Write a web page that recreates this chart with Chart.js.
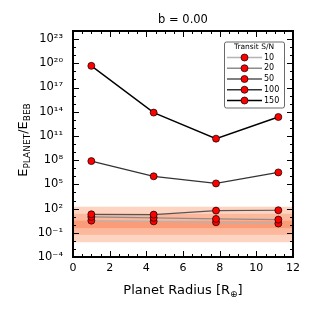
<!DOCTYPE html>
<html>
<head>
<meta charset="utf-8">
<script src="https://cdn.jsdelivr.net/npm/chart.js@4.4.1/dist/chart.umd.min.js"></script>
<style>
html,body{margin:0;padding:0;background:#fff;}
#wrap{width:312px;height:315px;}
</style>
</head>
<body>
<div id="wrap"><canvas id="myChart"></canvas></div>
<script>
// planet radius (earth radii) for every curve
const radius = [1.0, 4.4, 7.8, 11.2];
const snLabels = ['10', '20', '50', '100', '150'];
const sn10 = [3.2, 2.6, 2.0, 1.4];
const sn20 = [9.3, 7.1, 5.2, 4.3];
const sn50 = [19.5, 17.8, 56, 62];
const sn100 = [7.6e7, 1.0e6, 1.3e5, 3.0e6];
const sn150 = [4.8e19, 7.8e13, 4.6e10, 2.2e13];
const lineColors = ['#b4b4b4', '#8c8c8c', '#555555', '#333333', '#000000'];

// shaded bands, outer to inner
const bandLow = [6.8e-3, 5.6e-2, 0.38];
const bandHigh = [170, 22.4, 3.16];
const bandColors = ['rgb(253,212,194)', 'rgb(252,184,156)', 'rgb(250,156,120)'];

const yTickExp = [-4, -1, 2, 5, 8, 11, 14, 17, 20, 23];
const xTicks = [0, 2, 4, 6, 8, 10, 12];
const titleText = 'b = 0.00';

const FONT = 'DejaVu Sans';
const supMap = {'-':'\u207B','0':'\u2070','1':'\u00B9','2':'\u00B2','3':'\u00B3','4':'\u2074','5':'\u2075','6':'\u2076','7':'\u2077','8':'\u2078','9':'\u2079'};
function sup(n){
    return String(n).split('').map(c => supMap[c]).join('');
}

const allSeries = [sn10, sn20, sn50, sn100, sn150];
const datasets = allSeries.map((s, i) => ({
    label: snLabels[i],
    data: s.map((v, j) => ({x: radius[j], y: v})),
    borderColor: lineColors[i],
    borderWidth: i === 4 ? 1.4 : 1.2,
    pointRadius: 3.5,
    pointHoverRadius: 3.5,
    pointBackgroundColor: '#ff0000',
    pointBorderColor: '#000000',
    pointBorderWidth: 0.7,
    tension: 0,
    fill: false,
    order: allSeries.length - i
}));

const decor = {
    id: 'decor',
    beforeDatasetsDraw(chart){
        const ctx = chart.ctx, ca = chart.chartArea, y = chart.scales.y;
        ctx.save();
        for(let i = 0; i < bandLow.length; i++){
            const top = y.getPixelForValue(bandHigh[i]);
            const bot = y.getPixelForValue(bandLow[i]);
            ctx.fillStyle = bandColors[i];
            ctx.fillRect(ca.left, top, ca.right - ca.left, bot - top);
        }
        ctx.restore();
    },
    afterDatasetsDraw(chart){
        const ctx = chart.ctx, ca = chart.chartArea;
        const xs = chart.scales.x, ys = chart.scales.y;
        ctx.save();
        ctx.strokeStyle = '#000';
        ctx.lineWidth = 1;
        ctx.beginPath();
        // y ticks, one per decade, longer where labelled
        for(let e = -4; e <= 24; e++){
            const py = Math.round(ys.getPixelForValue(Math.pow(10, e))) + 0.5;
            const len = yTickExp.includes(e) ? 6 : 3;
            ctx.moveTo(ca.left, py); ctx.lineTo(ca.left + len, py);
            ctx.moveTo(ca.right, py); ctx.lineTo(ca.right - len, py);
        }
        // x ticks every 0.5
        for(let v = 0; v <= 12; v += 0.5){
            const px = Math.round(xs.getPixelForValue(v)) + 0.5;
            const len = xTicks.includes(v) ? 6 : 3;
            ctx.moveTo(px, ca.bottom); ctx.lineTo(px, ca.bottom - len);
            ctx.moveTo(px, ca.top); ctx.lineTo(px, ca.top + len);
        }
        ctx.stroke();
        ctx.lineWidth = 2;
        ctx.strokeRect(ca.left, ca.top, ca.right - ca.left, ca.bottom - ca.top);
        ctx.restore();
    },
    afterDraw(chart){
        const ctx = chart.ctx, ca = chart.chartArea;
        ctx.save();
        ctx.fillStyle = '#000';
        ctx.textBaseline = 'alphabetic';
        ctx.textAlign = 'left';

        // title over the plot box
        ctx.font = '11.5px "' + FONT + '"';
        ctx.textAlign = 'center';
        ctx.fillText(titleText, (ca.left + ca.right) / 2, 23);
        ctx.textAlign = 'left';

        // x axis title with subscript
        const big = '13px "' + FONT + '"', small = '9px "' + FONT + '"';
        const xParts = [['Planet Radius [R', big, 0], ['\u2295', small, 3], [']', big, 0]];
        drawParts(ctx, xParts, (ca.left + ca.right) / 2, 294);

        // y axis title, rotated
        ctx.save();
        ctx.translate(26.5, (ca.top + ca.bottom) / 2 - 4);
        ctx.rotate(-Math.PI / 2);
        const yParts = [['E', big, 0], ['PLANET', small, 3], ['/', big, 0], ['E', big, 0], ['BEB', small, 3]];
        drawParts(ctx, yParts, 0, 0);
        ctx.restore();

        // legend
        const lx = 224, ly = 41.5, lw = 60, lh = 66;
        ctx.beginPath();
        ctx.roundRect(lx + 0.5, ly + 0.5, lw, lh, 2);
        ctx.fillStyle = 'rgba(255,255,255,0.9)';
        ctx.fill();
        ctx.strokeStyle = '#444';
        ctx.lineWidth = 0.8;
        ctx.stroke();
        ctx.fillStyle = '#000';
        ctx.font = '7.5px "' + FONT + '"';
        ctx.textAlign = 'center';
        ctx.textBaseline = 'middle';
        ctx.fillText('Transit S/N', lx + 30, ly + 5.5);
        ctx.font = '8px "' + FONT + '"';
        ctx.textAlign = 'left';
        chart.data.datasets.forEach((ds, i) => {
            const ey = ly + 16 + i * 10.75;
            ctx.strokeStyle = ds.borderColor;
            ctx.lineWidth = 1.6;
            ctx.beginPath();
            ctx.moveTo(lx + 3, ey); ctx.lineTo(lx + 38, ey);
            ctx.stroke();
            ctx.beginPath();
            ctx.arc(lx + 20.5, ey, 3.5, 0, Math.PI * 2);
            ctx.fillStyle = ds.pointBackgroundColor;
            ctx.fill();
            ctx.strokeStyle = ds.pointBorderColor;
            ctx.lineWidth = 0.7;
            ctx.stroke();
            ctx.fillStyle = '#000';
            ctx.fillText(ds.label, lx + 40, ey);
        });
        ctx.restore();
    }
};

function drawParts(ctx, parts, cx, baseY){
    let total = 0;
    parts.forEach(p => { ctx.font = p[1]; total += ctx.measureText(p[0]).width; });
    let x = cx - total / 2;
    parts.forEach(p => {
        ctx.font = p[1];
        ctx.fillText(p[0], x, baseY + p[2]);
        x += ctx.measureText(p[0]).width;
    });
}

const can = document.getElementById('myChart');
new Chart(can, {
    type: 'line',
    data: {datasets: datasets},
    options: {
        responsive: true,
        maintainAspectRatio: false,
        animation: false,
        events: [],
        layout: {padding: {left: 0, right: 19, top: 31, bottom: 0}},
        plugins: {
            legend: {display: false},
            tooltip: {enabled: false},
            title: {display: false}
        },
        scales: {
            x: {
                type: 'linear',
                min: 0,
                max: 12,
                afterBuildTicks: s => { s.ticks = xTicks.map(v => ({value: v})); },
                afterFit: s => { s.height = 58; },
                grid: {display: false, drawTicks: false},
                border: {display: false},
                ticks: {color: '#000', font: {family: FONT, size: 11}, padding: 5, maxRotation: 0, autoSkip: false}
            },
            y: {
                type: 'logarithmic',
                min: 1e-4,
                max: 1e24,
                afterBuildTicks: s => { s.ticks = yTickExp.map(e => ({value: Math.pow(10, e)})); },
                afterFit: s => { s.width = 73; },
                grid: {display: false, drawTicks: false},
                border: {display: false},
                ticks: {
                    color: '#000',
                    font: {family: FONT, size: 11.5},
                    padding: 10,
                    autoSkip: false,
                    callback: v => '10' + sup(Math.round(Math.log10(v)))
                }
            }
        }
    },
    plugins: [decor]
});
</script>
</body>
</html>
